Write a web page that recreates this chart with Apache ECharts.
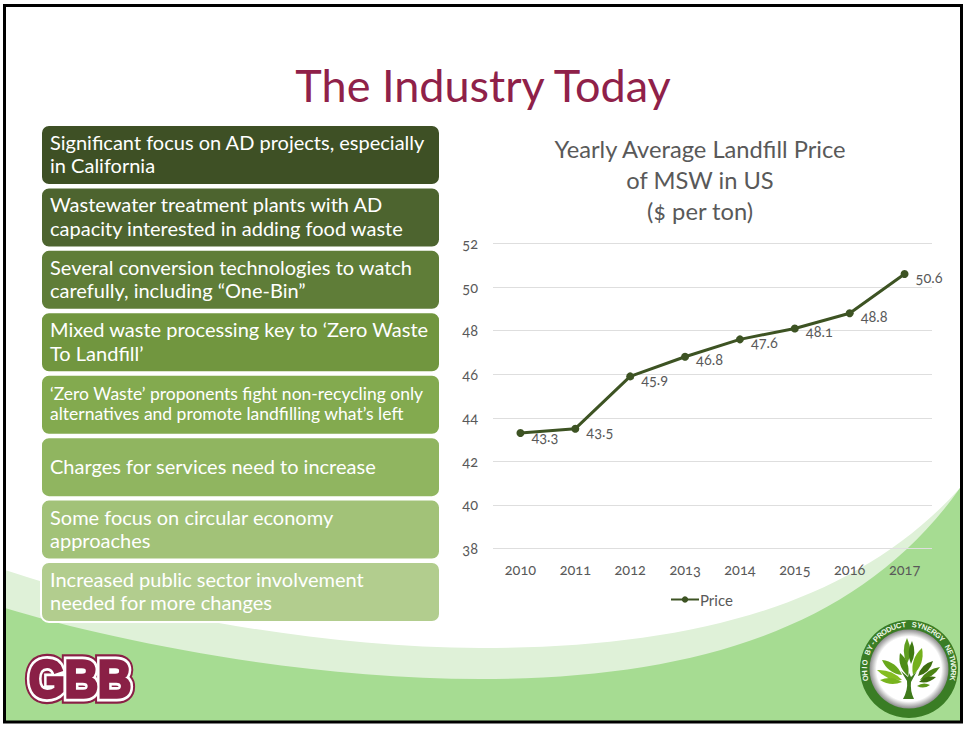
<!DOCTYPE html>
<html>
<head>
<meta charset="utf-8">
<title>The Industry Today</title>
<style>
  html, body { margin: 0; padding: 0; background: #fff; }
  #chart { width: 965px; height: 729px; }
  /* the slide font uses old style figures */
  svg text { font-variant-numeric: oldstyle-nums !important; font-feature-settings: "onum" 1 !important; }
</style>
</head>
<body>
<div id="chart"></div>
<script src="https://cdn.jsdelivr.net/npm/echarts@6/dist/echarts.min.js"></script>
<script>
const years = ['2010', '2011', '2012', '2013', '2014', '2015', '2016', '2017'];
const price = [43.3, 43.5, 45.9, 46.8, 47.6, 48.1, 48.8, 50.6];
const yTicks = { min: 38, max: 52, step: 2 };
const slideTitle = 'The Industry Today';
const chartTitle = 'Yearly Average Landfill Price\nof MSW in US\n($ per ton)';
const bullets = [
  'Significant focus on AD projects, especially\nin California',
  'Wastewater treatment plants with AD\ncapacity interested in adding food waste',
  'Several conversion technologies to watch\ncarefully, including “One-Bin”',
  'Mixed waste processing key to ‘Zero Waste\nTo Landfill’',
  '‘Zero Waste’ proponents fight non-recycling only\nalternatives and promote landfilling what’s left',
  'Charges for services need to increase',
  'Some focus on circular economy\napproaches',
  'Increased public sector involvement\nneeded for more changes'
];
const badgeText = 'OHIO BY-PRODUCT SYNERGY NETWORK';

const FONT = 'Lato';
const boxColors = ['#3e5025', '#4d642f', '#5f7d38', '#71963f', '#83aa4f', '#90b560', '#a2c278', '#b2cd8e'];

// graphic component has no plain path type, so register each outline as a shape
let shapeCount = 0;
function pathEl(d, z, fill) {
  const name = 'deco' + (shapeCount++);
  echarts.graphic.registerShape(name, echarts.graphic.extendPath(d, {}));
  return { type: name, z: z, style: { fill: fill } };
}

const graphics = [];

graphics.push(pathEl('M5 570 C110 605 300 648 480 648 C680 648 850 610 960 488 L960 722 L5 722 Z', -5, '#dff1d8'));
graphics.push(pathEl('M5 608 C110 640 300 679 480 679 C690 679 860 630 960 488 L960 722 L5 722 Z', -4, '#a6dc92'));

bullets.forEach(function (t, i) {
  const y = 126 + i * 62.43;
  graphics.push({
    type: 'rect', z: 1,
    shape: { x: 41, y: y - 1, width: 399, height: 60, r: 8 },
    style: { fill: boxColors[i], stroke: '#fff', lineWidth: 2 }
  });
  graphics.push({
    type: 'text', z: 2,
    x: 50, y: y + 27.7,
    style: {
      text: t, fill: '#fff', font: (i === 4 ? '17.5px ' : '20px ') + FONT,
      lineHeight: i === 4 ? 20 : 23.5, verticalAlign: 'middle', align: 'left'
    }
  });
});

// GBB logo, three layers of the same word
[['#8a2046', 12], ['#fff', 8], ['#8a2046', 3]].forEach(function (l, i) {
  graphics.push({
    type: 'text', z: 3 + i,
    x: 80, y: 679, scaleY: 1.12,
    style: {
      text: 'GBB', font: 'bold 46px "Liberation Sans"', fill: l[0], stroke: l[0],
      lineWidth: l[1], align: 'center', verticalAlign: 'middle'
    }
  });
});

// network badge
const cx = 909, cy = 669;
graphics.push({ type: 'circle', z: 3, shape: { cx: cx, cy: cy, r: 49 }, style: { fill: '#3a7d25' } });
graphics.push({
  type: 'circle', z: 4, shape: { cx: cx, cy: cy, r: 39.5 },
  style: {
    fill: {
      type: 'radial', x: 0.5, y: 0.5, r: 0.5,
      colorStops: [{ offset: 0, color: '#fff' }, { offset: 0.82, color: '#fff' }, { offset: 1, color: '#8d8d8d' }]
    }
  }
});
Array.from(badgeText).forEach(function (ch, i) {
  const a = (-102 + i * 204 / (badgeText.length - 1)) * Math.PI / 180;
  graphics.push({
    type: 'text', z: 5,
    x: cx + 44.5 * Math.sin(a), y: cy - 44.5 * Math.cos(a),
    rotation: -a,
    style: { text: ch, font: 'bold 7.5px "Liberation Sans"', fill: '#eef8e8', align: 'center', verticalAlign: 'middle' }
  });
});
// tree leaves: start x, start y, tip x, tip y, half width, colour
const leaves = [
  [907, 664, 907, 638, 4, '#5f9e1f'],
  [911, 664, 912, 641, 3.5, '#3f7a12'],
  [913, 675, 922, 648, 5, '#74b01c'],
  [908, 676, 900, 653, 4.5, '#4e8c16'],
  [902, 675, 882, 660, 4.5, '#69a81c'],
  [902, 680, 877, 670, 4, '#85bd22'],
  [902, 682, 880, 680, 3.5, '#78b41e'],
  [918, 676, 933, 661, 4, '#3e6e10'],
  [920, 680, 940, 667, 3.5, '#4c8414'],
  [919, 682, 936, 677, 3, '#3e6e10'],
  [917, 686, 930, 685, 2.5, '#5b9618']
];
leaves.forEach(function (p) {
  const len = Math.hypot(p[2] - p[0], p[3] - p[1]);
  const nx = -(p[3] - p[1]) / len * p[4] * 1.6;
  const ny = (p[2] - p[0]) / len * p[4] * 1.6;
  const mx = (p[0] + p[2]) / 2, my = (p[1] + p[3]) / 2;
  graphics.push(pathEl(`M${p[0]} ${p[1]} Q${mx + nx} ${my + ny} ${p[2]} ${p[3]} Q${mx - nx} ${my - ny} ${p[0]} ${p[1]} Z`, 5, p[5]));
});
graphics.push(pathEl('M903 699 Q908 690 907 681 L901 671 L908 677 L909 673 L911 677 L917 671 L911 682 Q910 691 914 699 Z', 5, '#3f7a1c'));

// slide frame
graphics.push({
  type: 'rect', z: 20,
  shape: { x: 4.5, y: 5.5, width: 957, height: 716.5 },
  style: { fill: 'none', stroke: '#000', lineWidth: 3 }
});

const chart = echarts.init(document.getElementById('chart'), null, { renderer: 'svg' });
chart.setOption({
  animation: false,
  title: [
    {
      text: slideTitle, left: 478, top: 57, textAlign: 'center',
      textStyle: { fontFamily: FONT, fontSize: 45, fontWeight: 'normal', color: '#8f2149' }
    },
    {
      text: chartTitle, left: 695, top: 128, textAlign: 'center',
      textStyle: { fontFamily: FONT, fontSize: 23.7, fontWeight: 'normal', color: '#595959', lineHeight: 31 }
    }
  ],
  legend: {
    left: 665, top: 587, itemWidth: 28, itemHeight: 8, itemGap: 4,
    textStyle: { fontFamily: FONT, fontSize: 15, color: '#595959', padding: [0, 0, 0, -4] }
  },
  grid: { left: 493, right: 33, top: 243.5, height: 305 },
  xAxis: {
    type: 'category', data: years,
    axisLine: { show: false }, axisTick: { show: false },
    axisLabel: { fontFamily: FONT, fontSize: 14.5, color: '#595959', margin: 13 }
  },
  yAxis: {
    type: 'value', min: yTicks.min, max: yTicks.max, interval: yTicks.step,
    axisLine: { show: false }, axisTick: { show: false },
    axisLabel: { fontFamily: FONT, fontSize: 14.5, color: '#595959', margin: 15 },
    splitLine: { lineStyle: { color: '#dedede', width: 1 } }
  },
  series: [{
    name: 'Price', type: 'line', data: price,
    symbol: 'circle', symbolSize: 8,
    lineStyle: { color: '#3d5323', width: 3 },
    itemStyle: { color: '#3d5323' },
    label: {
      show: true, position: 'right', distance: 7, offset: [0, 3],
      fontFamily: FONT, fontSize: 14.5, color: '#595959',
      formatter: function (p) { return p.value.toFixed(1); }
    }
  }],
  graphic: { elements: graphics }
});
</script>
</body>
</html>
